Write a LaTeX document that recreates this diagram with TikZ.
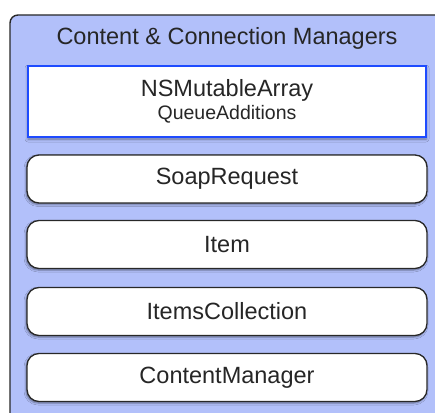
\documentclass[tikz,border=0pt]{standalone}
\usepackage{fontspec}
\setmainfont{Liberation Sans}
\usetikzlibrary{shadows.blur}
\definecolor{panelfill}{RGB}{178,192,250}
\definecolor{edgegray}{RGB}{40,40,40}
\definecolor{accentblue}{RGB}{30,75,255}
\tikzset{
  x=1pt, y=1pt,
  panel/.style={draw=edgegray, line width=1.4pt, fill=panelfill, rounded corners=8pt},
  classbox/.style={draw=edgegray, line width=1.3pt, fill=white, rounded corners=12pt,
    minimum width=400pt, minimum height=48pt, inner sep=0pt, font=\fontsize{23.5}{28}\selectfont,
    text=black!85,
    blur shadow={shadow xshift=-1pt, shadow yshift=-1.5pt, shadow blur radius=2pt, shadow opacity=45}},
  catbox/.style={draw=accentblue, line width=2pt, fill=white,
    minimum width=398pt, minimum height=71pt, inner sep=0pt, align=center, text=black!85,
    blur shadow={shadow xshift=0pt, shadow yshift=-2.5pt, shadow blur radius=3pt, shadow opacity=40}},
  title/.style={font=\fontsize{23.5}{28}\selectfont, text=black!85}
}
\begin{document}
\begin{tikzpicture}
  \useasboundingbox (0,0) rectangle (435,-412);
  \clip (0,0) rectangle (435,-412);
  % group panel running off the right and bottom edges
  \path[panel] (10,-15) rectangle (450,-430);
  \node[title] (head) at (227,-38) {Content \& Connection Managers};
  % category on NSMutableArray
  \node[catbox] (nsarray) at (227,-101) {{\fontsize{23.5}{26}\selectfont NSMutableArray}\\[3pt]{\fontsize{19.5}{22}\selectfont QueueAdditions}};
  % plain classes
  \node[classbox] (soap) at (227,-179) {SoapRequest};
  \node[classbox] (item) at (227,-244.5) {Item};
  \node[classbox] (coll) at (227,-311.5) {ItemsCollection};
  \node[classbox] (mgr) at (227,-377.5) {ContentManager};
\end{tikzpicture}
\end{document}
